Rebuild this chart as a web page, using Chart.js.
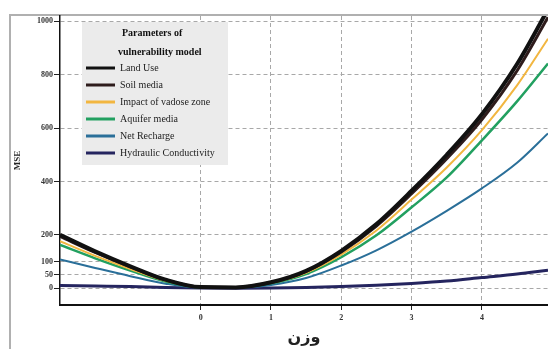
<!DOCTYPE html>
<html>
<head>
<meta charset="utf-8">
<script src="https://cdn.jsdelivr.net/npm/chart.js@4"></script>
<style>
  body { margin: 0; background: #fff; }
  canvas { display: block; }
</style>
</head>
<body>
<canvas id="chart" width="548" height="349"></canvas>
<script>
// weights (x) and MSE per parameter
const weights = [-2, -1.5, -1, -0.5, 0, 0.5, 1, 1.5, 2, 2.5, 3, 3.5, 4, 4.5, 4.94];
const landUse = [200, 138, 82, 32, 4, 3, 22, 65, 140, 240, 365, 500, 652, 840, 1045];
const soilMedia = [194, 134, 80, 31, 4, 3, 21, 63, 136, 233, 354, 485, 632, 815, 1015];
const vadoseZone = [176, 121, 72, 28, 4, 3, 20, 58, 126, 216, 332, 452, 592, 760, 935];
const aquiferMedia = [162, 112, 66, 25, 3, 2, 18, 53, 116, 198, 303, 415, 554, 700, 842];
const netRecharge = [108, 76, 45, 17, 2, 2, 12, 38, 85, 142, 212, 290, 374, 470, 580];
const hydraulicCond = [10, 8, 6, 3, 1, 0, 1, 3, 6, 11, 18, 27, 40, 53, 67];

const seriesNames = ['Land Use', 'Soil media', 'Impact of vadose zone', 'Aquifer media', 'Net Recharge', 'Hydraulic Conductivity'];
const yTicks = [0, 50, 100, 200, 400, 600, 800, 1000];
const xTicks = [0, 1, 2, 3, 4];
const legendTitle = ['Parameters of', 'vulnerability model'];

const colors = ['#111111', '#2e1c1c', '#f2b640', '#22a060', '#2a6f99', '#25255f'];
const widths = [4, 3, 2, 2.5, 2, 3];

const allSeries = [landUse, soilMedia, vadoseZone, aquiferMedia, netRecharge, hydraulicCond];

const datasets = allSeries.map((vals, i) => ({
    label: seriesNames[i],
    data: vals.map((v, j) => ({ x: weights[j], y: v })),
    borderColor: colors[i],
    backgroundColor: colors[i],
    borderWidth: widths[i],
    pointRadius: 0,
    cubicInterpolationMode: 'monotone',
    fill: false
}));

// frame lines and the legend box, drawn by hand like the figure
const framePlugin = {
    id: 'frame',
    beforeDraw(chart) {
        const ctx = chart.ctx;
        const area = chart.chartArea;
        ctx.save();
        ctx.strokeStyle = '#b0b0b0';
        ctx.lineWidth = 2;
        ctx.beginPath();
        ctx.moveTo(10, 349);
        ctx.lineTo(10, area.top - 1);
        ctx.lineTo(548, area.top - 1);
        ctx.stroke();
        ctx.restore();
    },
    afterDatasetsDraw(chart) {
        const ctx = chart.ctx;
        const area = chart.chartArea;
        const bx = area.left + 22;
        const by = area.top + 6;
        ctx.save();
        ctx.fillStyle = '#ebebeb';
        ctx.fillRect(bx, by, 146, 143);
        ctx.fillStyle = '#111';
        ctx.textBaseline = 'middle';
        ctx.font = 'bold 10px "Liberation Serif"';
        ctx.fillText(legendTitle[0], bx + 40, by + 11);
        ctx.fillText(legendTitle[1], bx + 36, by + 30);
        ctx.font = '10px "Liberation Serif"';
        const rows = [46, 63, 80, 97, 114, 131];
        chart.data.datasets.forEach((ds, i) => {
            const y = by + rows[i];
            ctx.strokeStyle = ds.borderColor;
            ctx.lineWidth = 3;
            ctx.beginPath();
            ctx.moveTo(bx + 4, y);
            ctx.lineTo(bx + 33, y);
            ctx.stroke();
            ctx.fillStyle = '#222';
            ctx.fillText(ds.label, bx + 38, y);
        });
        ctx.restore();
    }
};

const ctx = document.getElementById('chart').getContext('2d');
new Chart(ctx, {
    type: 'line',
    data: { datasets: datasets },
    options: {
        responsive: false,
        animation: false,
        layout: { padding: { top: 16, left: 0, right: 0, bottom: 0 } },
        plugins: {
            legend: { display: false },
            tooltip: { enabled: false }
        },
        scales: {
            x: {
                type: 'linear',
                min: -2,
                max: 4.94,
                afterBuildTicks: scale => { scale.ticks = xTicks.map(v => ({ value: v })); },
                afterFit: scale => { scale.height = 44; },
                grid: { color: '#a8a8a8', lineWidth: 1, tickColor: '#222', tickLength: 5, tickBorderDash: [] },
                border: { color: '#111', width: 2, dash: [4, 3] },
                ticks: {
                    color: '#333',
                    font: { family: 'Liberation Serif', size: 8, weight: 'bold' },
                    padding: 3,
                    maxRotation: 0,
                    callback: v => String(v)
                },
                title: {
                    display: true,
                    text: 'وزن',
                    color: '#222',
                    font: { family: 'DejaVu Sans', size: 16, weight: 'bold', lineHeight: 1 },
                    padding: { top: 0, bottom: 3 }
                }
            },
            y: {
                type: 'linear',
                min: -63,
                max: 1020,
                afterBuildTicks: scale => { scale.ticks = yTicks.map(v => ({ value: v })); },
                afterFit: scale => { scale.width = 60; },
                grid: { color: '#a8a8a8', lineWidth: 1, tickColor: '#222', tickLength: 6, tickBorderDash: [] },
                border: { color: '#111', width: 1.5, dash: [4, 3] },
                ticks: {
                    color: '#333',
                    font: { family: 'Liberation Serif', size: 8, weight: 'bold' },
                    padding: 1,
                    callback: v => String(v)
                },
                title: {
                    display: true,
                    text: 'MSE',
                    color: '#222',
                    font: { family: 'Liberation Serif', size: 9, weight: 'bold', lineHeight: 1 },
                    padding: { top: 13, bottom: 0 }
                }
            }
        }
    },
    plugins: [framePlugin]
});
</script>
</body>
</html>
